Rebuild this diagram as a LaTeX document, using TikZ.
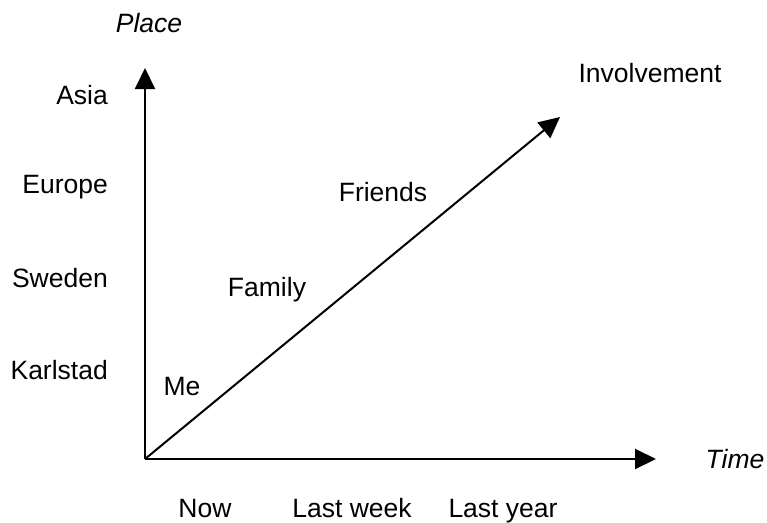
\documentclass[tikz,border=0pt]{standalone}
\usepackage{fontspec}
\setmainfont{Liberation Sans}
\usetikzlibrary{arrows.meta}

\begin{document}
\begin{tikzpicture}[x=1pt,y=-1pt,
    lbl/.style={font=\fontsize{26.5}{30}\selectfont, inner sep=0pt},
    ax/.style={line width=2pt, -{Triangle[length=21pt,width=20pt]}}]
            \useasboundingbox (0,0) rectangle (767,522);
            \coordinate (o) at (145,459);
            \coordinate (place) at (145,68);
            \coordinate (time) at (656,459);
            \coordinate (inv) at (560,117);

            \node[lbl,font=\fontsize{26.5}{30}\itshape] (pl) at (149,23) {Place};
            \node[lbl,font=\fontsize{26.5}{30}\itshape] (ti) at (735,459) {Time};
            \node[lbl] (in) at (650,73) {Involvement};

            \node[lbl,anchor=east] (asia) at (108,95) {Asia};
            \node[lbl,anchor=east] (eu) at (108,187) {Europe};
            \node[lbl,anchor=east] (swe) at (108,278) {Sweden};
            \node[lbl,anchor=east] (ks) at (108,370) {Karlstad};

            \node[lbl] (me) at (182,387) {Me};
            \node[lbl] (fam) at (267,290) {Family};
            \node[lbl] (fr) at (383,192) {Friends};

            \node[lbl,anchor=base] (now) at (205,517) {Now};
            \node[lbl,anchor=base] (lw) at (352,517) {Last week};
            \node[lbl,anchor=base] (ly) at (503,517) {Last year};

            \draw[ax] (o) -- (place);
            \draw[ax] (o) -- (time);
            \draw[ax] (o) -- (inv);
          \end{tikzpicture}
\end{document}
